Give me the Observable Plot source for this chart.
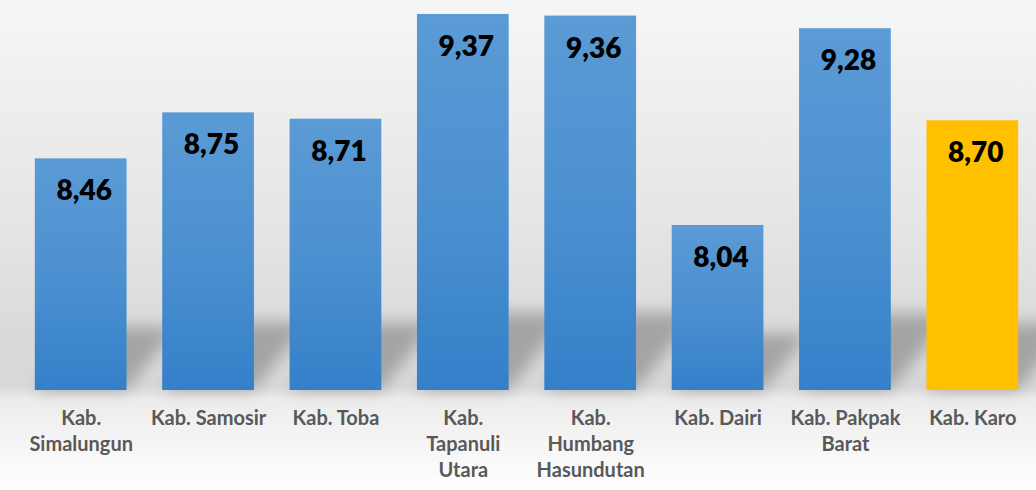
<!DOCTYPE html>
<html>
<head>
<meta charset="utf-8">
<script src="https://cdn.jsdelivr.net/npm/d3@7"></script>
<script src="https://cdn.jsdelivr.net/npm/@observablehq/plot@0.6"></script>
<style>
  html, body { margin: 0; padding: 0; }
  body { width: 1036px; height: 490px; overflow: hidden;
    background: linear-gradient(to bottom, #f6f6f6 0%, #e4e4e4 48%, #d9d9d9 70%, #d9d9d9 79%, #ececec 81.5%, #ffffff 100%); }
  svg { display: block; }
</style>
</head>
<body>
<div id="chart"></div>
<script>
const regencies = ["Kab. Simalungun", "Kab. Samosir", "Kab. Toba", "Kab. Tapanuli Utara",
  "Kab. Humbang Hasundutan", "Kab. Dairi", "Kab. Pakpak Barat", "Kab. Karo"];
const values = [8.46, 8.75, 8.71, 9.37, 9.36, 8.04, 9.28, 8.70];
const tickLabels = ["Kab.\nSimalungun", "Kab. Samosir", "Kab. Toba", "Kab.\nTapanuli\nUtara",
  "Kab.\nHumbang\nHasundutan", "Kab. Dairi", "Kab. Pakpak\nBarat", "Kab. Karo"];
const highlight = "Kab. Karo";
const baseline = 7;
const yTop = 9.458;

const data = regencies.map((r, i) => ({
  r, v: values[i], label: tickLabels[i], kind: r === highlight ? "highlight" : "base"
}));

const chart = Plot.plot({
  width: 1036,
  height: 490,
  marginTop: 0,
  marginBottom: 100,
  marginLeft: 17,
  marginRight: 0,
  style: { background: "transparent", fontFamily: "Lato, 'Open Sans', sans-serif" },
  x: { domain: regencies, paddingInner: 0.28, paddingOuter: 0.14, round: false, axis: null },
  y: { domain: [baseline, yTop], axis: null },
  color: { domain: ["base", "highlight"], range: ["url(#blueGrad)", "#FFC000"] },
  marks: [
    Plot.barY(data, { x: "r", y1: baseline, y2: "v", fill: "#7f7f7f" }),
    Plot.barY(data, { x: "r", y1: baseline, y2: "v", fill: "kind" }),
    Plot.text(data, {
      x: "r", y: "v", text: d => d.v.toFixed(2).replace(".", ","),
      dy: 32.5, dx: 3, fontSize: 28, fontWeight: 800, fill: "#000"
    }),
    Plot.text(data, {
      x: "r", text: "label", frameAnchor: "bottom", lineAnchor: "top",
      dy: 16, fontSize: 20, fontWeight: 700, fill: "#595959", lineHeight: 1.3
    })
  ]
});

document.getElementById("chart").appendChild(chart);

// defs: bar gradient and shadow blur
const svg = d3.select(chart);
const defs = svg.insert("defs", ":first-child");
const g = defs.append("linearGradient").attr("id", "blueGrad")
  .attr("x1", 0).attr("y1", 0).attr("x2", 0).attr("y2", 1);
g.append("stop").attr("offset", "0%").attr("stop-color", "#5b9bd5");
g.append("stop").attr("offset", "55%").attr("stop-color", "#4a8fd0");
g.append("stop").attr("offset", "100%").attr("stop-color", "#3480c9");
defs.append("filter").attr("id", "shadowBlur")
  .attr("x", "-50%").attr("y", "-50%").attr("width", "200%").attr("height", "200%")
  .append("feGaussianBlur").attr("stdDeviation", 8);

// turn first bar group into cast shadows (skewed to the back-right)
const barGroups = svg.selectAll("g[aria-label='bar']").nodes();
if (barGroups.length >= 2) {
  const sg = d3.select(barGroups[0]);
  sg.attr("filter", "url(#shadowBlur)").attr("opacity", 0.5);
  sg.selectAll("rect").each(function () {
    const r = d3.select(this);
    const x = +r.attr("x"), y = +r.attr("y"), w = +r.attr("width"), h = +r.attr("height");
    const b = y + h;
    const sh = 0.1 * h + 40;
    const dx = sh * 0.8;
    const p = `M${x},${b}L${x + w},${b}L${x + w + dx},${b - sh}L${x + dx},${b - sh}Z`;
    d3.select(this.parentNode).append("path").attr("d", p).attr("fill", "#707070");
    r.remove();
  });
}
</script>
</body>
</html>
